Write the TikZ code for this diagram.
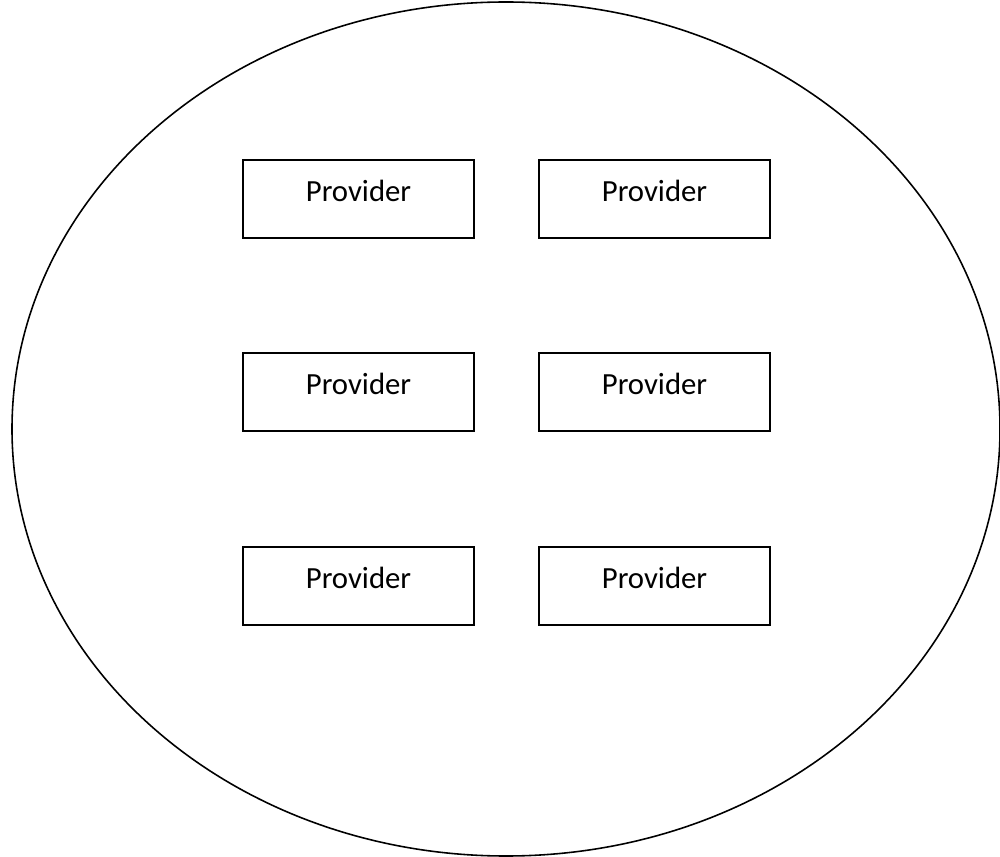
\documentclass[tikz,border=0pt]{standalone}
\usepackage{fontspec}
\setmainfont{Carlito}
\tikzset{
  provbox/.style={draw, line width=0.7pt, minimum width=4.62cm, minimum height=1.56cm, text depth=9pt, font=\fontsize{17.5}{20}\selectfont}
}
\begin{document}
\begin{tikzpicture}[x=0.02cm,y=-0.02cm]
    \useasboundingbox (0,0) rectangle (1000,857);
    %ELLIPSE
    \draw [line width=0.9pt] (506,429) ellipse [x radius=494, y radius=427];

    %TOP ROW
    \node (p1) at (358.5,199) [provbox] {Provider};
    \node (p2) at (654.5,199) [provbox] {Provider};

    %MIDDLE ROW
    \node (p3) at (358.5,392) [provbox] {Provider};
    \node (p4) at (654.5,392) [provbox] {Provider};

    %BOTTOM ROW
    \node (p5) at (358.5,586) [provbox] {Provider};
    \node (p6) at (654.5,586) [provbox] {Provider};
\end{tikzpicture}
\end{document}
